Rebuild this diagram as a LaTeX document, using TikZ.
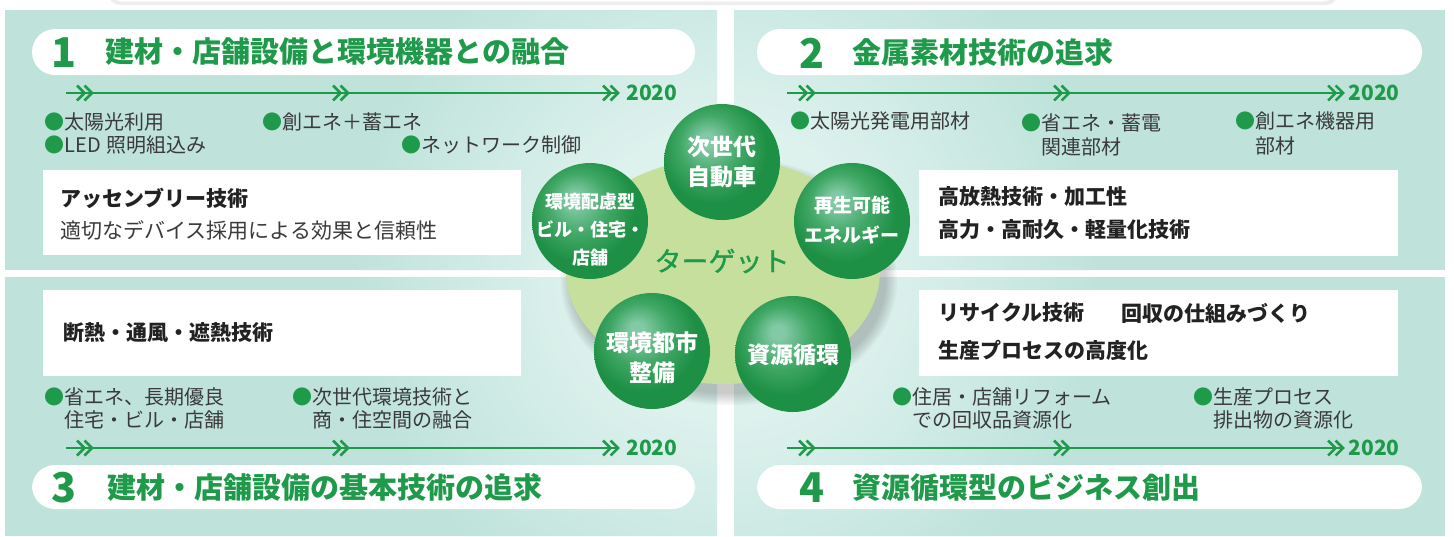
\documentclass[tikz,border=0pt]{standalone}
\usepackage{fontspec}
\setmainfont{Noto Sans CJK JP}
\newfontfamily\tgfont{Noto Sans CJK JP}[FakeBold=1.2]
\usetikzlibrary{shapes.geometric}
\definecolor{teal0}{HTML}{BFE3DB}
\definecolor{glowc}{HTML}{DDF1ED}
\definecolor{lg}{HTML}{C6DF9D}
\definecolor{gr}{HTML}{1E9A4A}
\definecolor{txtg}{HTML}{3A3A3A}
\definecolor{txtd}{HTML}{222222}
\definecolor{hl}{HTML}{82C9A5}
\definecolor{md}{HTML}{41A866}
\definecolor{dk}{HTML}{1E9045}
\pgfdeclareradialshading{ballg}{\pgfpoint{-7bp}{10bp}}{color(0bp)=(hl); color(3bp)=(hl); color(13bp)=(md); color(23bp)=(dk); color(25bp)=(dk); color(50bp)=(dk)}
\pgfdeclareradialshading{glow}{\pgfpoint{0bp}{0bp}}{color(0bp)=(glowc); color(10bp)=(glowc); color(25bp)=(teal0); color(50bp)=(teal0)}
\newcommand{\gb}{{\color{gr}●}}
\begin{document}
\begin{tikzpicture}[x=0.5pt,y=-0.5pt,
  panel/.style={fill=teal0},
  pill/.style={fill=white, rounded corners=11.5pt},
  wbox/.style={fill=white},
  bul/.style={anchor=west, inner sep=0pt, text=txtg, font=\fontsize{10pt}{12pt}\selectfont},
  boxb/.style={anchor=west, inner sep=0pt, text=txtd, font=\bfseries\fontsize{10.5pt}{12pt}\selectfont},
  boxr/.style={anchor=west, inner sep=0pt, text=txtg, font=\fontsize{10.5pt}{12pt}\selectfont},
  ttl/.style={anchor=west, inner sep=0pt, text=gr, font=\bfseries\fontsize{14.5pt}{16pt}\selectfont},
  num/.style={inner sep=0pt, text=gr, font=\bfseries\fontsize{20.5pt}{22pt}\selectfont},
  yr/.style={anchor=west, inner sep=0pt, text=gr, font=\bfseries\fontsize{10.5pt}{12pt}\selectfont},
  tl/.style={draw=gr, line width=1pt},
  chevst/.style={draw=gr, line width=1.25pt},
  dchev/.pic={\draw[chevst] (-16,-7.5) -- (-8.5,0) -- (-16,7.5) (-8.5,-7.5) -- (-1,0) -- (-8.5,7.5);},
  ball/.style={circle, minimum size=58pt, inner sep=0pt, shading=ballg},
  ctxt/.style={align=center, text=white, inner sep=0pt, font=\bfseries\fontsize{11.5pt}{15pt}\selectfont}
]
\useasboundingbox (0,0) rectangle (1454,536);
\fill[white] (0,0) rectangle (1454,536);
% faint shadow of a box above
\fill[black!7, rounded corners=6pt] (108,-30) rectangle (1338,5);
\fill[white, rounded corners=6pt] (110,-30) rectangle (1335,1.5);
% panels
\fill[panel] (5,10) rectangle (717,270);
\fill[panel] (734,10) rectangle (1445,270);
\fill[panel] (5,277) rectangle (717,536);
\fill[panel] (734,277) rectangle (1445,536);
\begin{scope}
  \clip (5,10) rectangle (717,270) (734,10) rectangle (1445,270) (5,277) rectangle (717,536) (734,277) rectangle (1445,536);
  \shade[shading=glow] (725,272) circle (370);
\end{scope}
% pills
\fill[pill] (32,29) rectangle (695,75);
\fill[pill] (757,29) rectangle (1422,75);
\fill[pill] (32,465) rectangle (695,509);
\fill[pill] (757,465) rectangle (1422,509);
% titles
\node[num] (n1) at (64,53) {1};
\node[ttl] (h1) at (105,52) {建材・店舗設備と環境機器との融合};
\node[num] (n2) at (812,53) {2};
\node[ttl] (h2) at (852,52) {金属素材技術の追求};
\node[num] (n3) at (64,488) {3};
\node[ttl] (h3) at (107,487) {建材・店舗設備の基本技術の追求};
\node[num] (n4) at (812,488) {4};
\node[ttl] (h4) at (852,487) {資源循環型のビジネス創出};
% timelines
\coordinate (a1) at (66,93);  \coordinate (b1) at (619,93);
\coordinate (a2) at (787,93); \coordinate (b2) at (1344,93);
\coordinate (a3) at (66,448); \coordinate (b3) at (619,448);
\coordinate (a4) at (787,448); \coordinate (b4) at (1344,448);
\draw[tl] (a1) -- (b1);
\draw[tl] (a2) -- (b2);
\draw[tl] (a3) -- (b3);
\draw[tl] (a4) -- (b4);
\foreach \x in {93,349,619} { \pic at (\x,93) {dchev}; \pic at (\x,448) {dchev}; }
\foreach \x in {815,1070,1344} { \pic at (\x,93) {dchev}; \pic at (\x,448) {dchev}; }
\node[yr] (y1) at (626,93) {2020};
\node[yr] (y2) at (1348,93) {2020};
\node[yr] (y3) at (626,448) {2020};
\node[yr] (y4) at (1348,448) {2020};
% bullets panel 1
\node[bul] (p1a) at (44,122) {\gb 太陽光利用};
\node[bul] (p1b) at (262,122) {\gb 創エネ＋蓄エネ};
\node[bul] (p1c) at (44,145) {\gb LED\hspace{3pt}照明組込み};
\node[bul] (p1d) at (401,145) {\gb ネットワーク制御};
% bullets panel 2
\node[bul] (p2a) at (790,121) {\gb 太陽光発電用部材};
\node[bul] (p2b) at (1021,123) {\gb 省エネ・蓄電};
\node[bul] (p2b2) at (1041,147) {関連部材};
\node[bul] (p2c) at (1235,121) {\gb 創エネ機器用};
\node[bul] (p2c2) at (1255,146) {部材};
% bullets panel 3
\node[bul] (p3a) at (44,397) {\gb 省エネ、長期優良};
\node[bul] (p3a2) at (64,420) {住宅・ビル・店舗};
\node[bul] (p3b) at (292,397) {\gb 次世代環境技術と};
\node[bul] (p3b2) at (312,420) {商・住空間の融合};
% bullets panel 4
\node[bul] (p4a) at (892,397) {\gb 住居・店舗リフォーム};
\node[bul] (p4a2) at (912,420) {での回収品資源化};
\node[bul] (p4b) at (1193,397) {\gb 生産プロセス};
\node[bul] (p4b2) at (1213,420) {排出物の資源化};
% white boxes
\fill[wbox] (43,170) rectangle (521,255);
\fill[wbox] (919,170) rectangle (1398,256);
\fill[wbox] (43,290) rectangle (521,376);
\fill[wbox] (919,290) rectangle (1398,376);
\node[boxb] (k1a) at (60,198) {アッセンブリー技術};
\node[boxr] (k1b) at (60,230) {適切なデバイス採用による効果と信頼性};
\node[boxb] (k2a) at (938,197) {高放熱技術・加工性};
\node[boxb] (k2b) at (938,230) {高力・高耐久・軽量化技術};
\node[boxb] (k3a) at (63,333) {断熱・通風・遮熱技術};
\node[boxb] (k4a) at (938,313) {リサイクル技術};
\node[boxb] (k4b) at (1121,313) {回収の仕組みづくり};
\node[boxb] (k4c) at (938,350) {生産プロセスの高度化};
% centre shape with shadow
\foreach \i in {0,...,5} {
  \fill[black, opacity=0.035] (729,281) ellipse [x radius={157+\i*2.2}, y radius={113+\i*2.2}];
}
\node[ellipse, fill=lg, minimum width=157pt, minimum height=113pt, inner sep=0pt] (tg) at (723,271) {};
\node[inner sep=0pt, text=gr, font=\tgfont\fontsize{13.5pt}{15pt}\selectfont] (tgt) at (722,261) {ターゲット};
% balls
\node[ball] (c1) at (722,162) {};
\node[ball] (c2) at (852,221) {};
\node[ball] (c3) at (590,221) {};
\node[ball] (c4) at (652,351) {};
\node[ball] (c5) at (793,354) {};
\node[ctxt] (c1t) at (722,162) {次世代\\自動車};
\node[ctxt, font=\bfseries\fontsize{9.5pt}{15pt}\selectfont] (c2t) at (852,220) {再生可能\\エネルギー};
\node[ctxt, font=\bfseries\fontsize{9pt}{14pt}\selectfont] (c3t) at (590,230) {環境配慮型\\ビル・住宅・\\店舗};
\node[ctxt] (c4t) at (652,358) {環境都市\\整備};
\node[ctxt] (c5t) at (793,355) {資源循環};
\end{tikzpicture}
\end{document}
